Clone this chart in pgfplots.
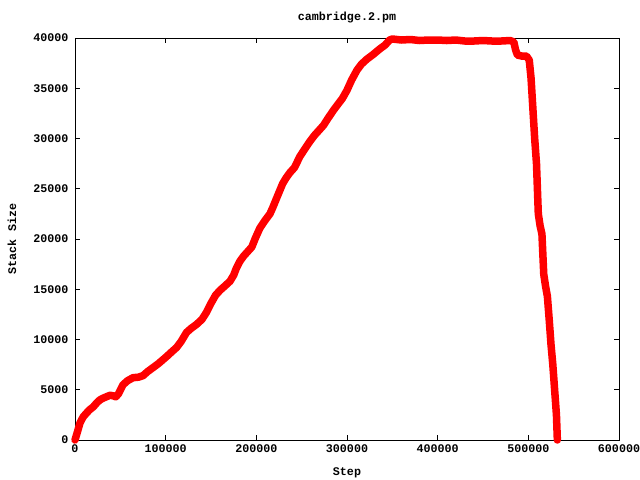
\documentclass[border=0pt]{standalone}
\usepackage{fontspec}
\setmainfont{Liberation Mono}
\usepackage{pgfplots}
\pgfplotsset{compat=1.18}
\begin{document}
\begin{tikzpicture}
\useasboundingbox (-75bp,-40bp) rectangle (565bp,440bp);
\begin{axis}[
  at={(0,0)}, anchor=south west,
  scale only axis, width=544bp, height=402bp,
  xmin=0, xmax=600000, ymin=0, ymax=40000,
  xtick={0,100000,...,600000}, ytick={0,5000,...,40000},
  scaled ticks=false,
  /pgf/number format/fixed,
  /pgf/number format/1000 sep={},
  /pgf/number format/assume math mode=true,
  tick align=inside, major tick length=5bp,
  tick style={black, line width=0.8bp},
  axis line style={line width=0.9bp},
  font=\fontsize{11.7bp}{14bp}\selectfont\bfseries,
  ticklabel style={font=\fontsize{11.7bp}{14bp}\selectfont\bfseries},
  yticklabel style={xshift=-3bp},
  xticklabel style={yshift=-1.5bp},
  xlabel={Step},
  xlabel style={at={(axis description cs:0.5,-0.0796)}, anchor=center, yshift=-1bp},
  ylabel={Stack Size},
  ylabel style={at={(axis description cs:-0.116,0.5)}, anchor=center},
  clip=false,
]
\node[anchor=center, font=\fontsize{11.7bp}{14bp}\selectfont\bfseries] at (rel axis cs:0.5,1) [yshift=20bp] {cambridge.2.pm};
\addplot[color=red, line width=7.5bp, line join=round, line cap=round] coordinates {
(0,0) (3000,900) (5500,1700) (9000,2300) (12900,2700) (16000,3000) (20200,3300)
(24000,3700) (27600,4000) (32000,4200) (38600,4450) (42000,4400) (45000,4300)
(48000,4600) (53000,5500) (58000,5900) (64000,6200) (70000,6250) (75000,6400)
(80000,6800) (86000,7200) (92000,7600) (101000,8300) (107000,8800) (112000,9200)
(117000,9800) (123000,10700) (128000,11100) (134000,11500) (140000,12000)
(145000,12700) (150000,13600) (155000,14400) (160000,14900) (165000,15300)
(171000,15800) (175000,16400) (178000,17100) (182000,17800) (186000,18300)
(190000,18700) (195000,19200) (199000,20100) (204000,21100) (210000,21900)
(215000,22500) (218000,23100) (223000,24200) (229000,25500) (233000,26100)
(237000,26600) (242000,27100) (248000,28200) (253000,28900) (259000,29700)
(264000,30300) (270000,30900) (274000,31300) (279000,32000) (285000,32800)
(290000,33400) (295000,34000) (300000,34800) (305000,35800) (311000,36800)
(316000,37400) (322000,37900) (328000,38300) (336000,38900) (342000,39300)
(347000,39800) (350000,39900) (360000,39800) (370000,39850) (380000,39750)
(390000,39800) (400000,39800) (410000,39750) (420000,39800) (430000,39700)
(440000,39700) (450000,39750) (460000,39700) (470000,39700) (480000,39750)
(484000,39600) (486000,38800) (488000,38300) (493000,38200) (498000,38200)
(501000,37800) (503000,36000) (505000,33000) (507000,30000) (509000,27500)
(511000,22500) (513000,21300) (515000,20500) (517000,16500) (519000,15300)
(521000,14300) (523000,12000) (525000,9500) (527000,7500) (529000,5000)
(531000,2500) (532000,0)
};
\end{axis}
\end{tikzpicture}
\end{document}
